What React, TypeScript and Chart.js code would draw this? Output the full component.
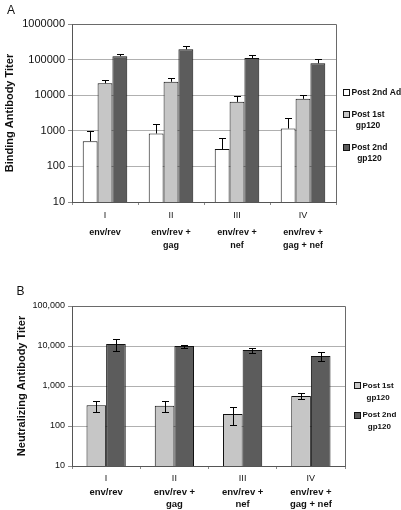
import React, { useEffect, useRef } from 'react';
import { Chart, registerables } from 'chart.js';

Chart.register(...registerables);

const FONT = "'Liberation Sans', Arial, Helvetica, sans-serif";

// ---------- data ----------
const romanLabels = ['I', 'II', 'III', 'IV'];
const groupNames = [['env/rev'], ['env/rev +', 'gag'], ['env/rev +', 'nef'], ['env/rev +', 'gag + nef']];

const bindingTicks = [10, 100, 1000, 10000, 100000, 1000000];
const bindingTickLabels = ['10', '100', '1000', '10000', '100000', '1000000'];
const neutTicks = [10, 100, 1000, 10000, 100000];
const neutTickLabels = ['10', '100', '1,000', '10,000', '100,000'];

const bindingPostAd = [510, 840, 306, 1160];
const bindingPostAdErr = [490, 740, 320, 1100];
const bindingPost1st = [21700, 23800, 6500, 7900];
const bindingPost1stErr = [5900, 7200, 2700, 2500];
const bindingPost2nd = [125000, 195000, 111000, 78700];
const bindingPost2ndErr = [19000, 41000, 27000, 25000];

const neutPost1st = [330, 320, 200, 565];
const neutPost1stErr = [100, 100, 95, 85];
const neutPost2nd = [11200, 10000, 7900, 5600];
const neutPost2ndErr = [3600, 900, 1100, 1400];

const legendA = [['Post 2nd Ad'], ['Post 1st', 'gp120'], ['Post 2nd', 'gp120']];
const legendB = [['Post 1st', 'gp120'], ['Post 2nd', 'gp120']];

const WHITE = '#ffffff';
const LIGHT = '#c6c6c6';
const DARK = '#5c5c5c';

// ---------- plugins ----------
const errorBarsPlugin = {
  id: 'errorBars',
  afterDatasetsDraw(chart: any, _args: any, opts: any) {
    const ctx = chart.ctx;
    const y = chart.scales.y;
    ctx.save();
    ctx.strokeStyle = '#000';
    ctx.lineWidth = 1;
    chart.data.datasets.forEach((ds: any, i: number) => {
      const meta = chart.getDatasetMeta(i);
      if (!ds.errors) return;
      meta.data.forEach((el: any, j: number) => {
        const v = ds.data[j];
        const e = ds.errors[j];
        const x = Math.round(el.x) + 0.5;
        const yTop = Math.round(y.getPixelForValue(v + e)) + 0.5;
        const yBot = opts.mode === 'both' ? Math.round(y.getPixelForValue(v - e)) + 0.5 : el.y;
        const hw = opts.cap / 2;
        ctx.beginPath();
        ctx.moveTo(x, yBot);
        ctx.lineTo(x, yTop);
        ctx.moveTo(x - hw, yTop);
        ctx.lineTo(x + hw, yTop);
        if (opts.mode === 'both') {
          ctx.moveTo(x - hw, yBot);
          ctx.lineTo(x + hw, yBot);
        }
        ctx.stroke();
      });
    });
    ctx.restore();
  },
};

const framePlugin = {
  id: 'frame',
  beforeDatasetsDraw(chart: any) {
    const { ctx, chartArea } = chart;
    ctx.save();
    ctx.strokeStyle = '#6a6a6a';
    ctx.lineWidth = 1;
    ctx.beginPath();
    const l = Math.round(chartArea.left) + 0.5;
    const t = Math.round(chartArea.top) + 0.5;
    const r = Math.round(chartArea.right) + 0.5;
    const b = Math.round(chartArea.bottom) + 0.5;
    ctx.moveTo(l, t);
    ctx.lineTo(r, t);
    ctx.lineTo(r, b);
    ctx.stroke();
    ctx.restore();
  },
};

const sideLegendPlugin = {
  id: 'sideLegend',
  afterDraw(chart: any, _args: any, opts: any) {
    const ctx = chart.ctx;
    ctx.save();
    ctx.font = `bold ${opts.fontSize}px ${FONT}`;
    ctx.fillStyle = '#111';
    ctx.textBaseline = 'middle';
    ctx.textAlign = 'center';
    let yLine = opts.y;
    opts.items.forEach((lines: string[], i: number) => {
      const ds = chart.data.datasets[i];
      const bs = opts.box;
      ctx.fillStyle = ds.backgroundColor;
      ctx.fillRect(opts.x, Math.round(yLine - bs / 2), bs, bs);
      ctx.strokeStyle = '#111';
      ctx.lineWidth = 1;
      ctx.strokeRect(opts.x + 0.5, Math.round(yLine - bs / 2) + 0.5, bs - 1, bs - 1);
      const maxW = Math.max(...lines.map((s) => ctx.measureText(s).width));
      const cx = opts.x + bs + opts.gap + maxW / 2;
      ctx.fillStyle = '#111';
      lines.forEach((s, k) => {
        ctx.fillText(s, cx, yLine + k * opts.lineH);
      });
      yLine += lines.length * opts.lineH + opts.itemGap;
    });
    ctx.restore();
  },
};

const panelLetterPlugin = {
  id: 'panelLetter',
  afterDraw(chart: any, _args: any, opts: any) {
    const ctx = chart.ctx;
    ctx.save();
    ctx.font = `${opts.size}px ${FONT}`;
    ctx.fillStyle = '#111';
    ctx.textBaseline = 'alphabetic';
    ctx.textAlign = 'left';
    ctx.fillText(opts.text, opts.x, opts.y);
    ctx.restore();
  },
};

// ---------- config builder ----------
function buildConfig(p: any) {
  return {
    type: 'bar',
    data: {
      labels: romanLabels,
      datasets: p.datasets.map((d: any) => ({
        label: d.label,
        data: d.data,
        errors: d.errors,
        backgroundColor: d.color,
        borderColor: '#111',
        borderWidth: 1,
        categoryPercentage: p.catPct,
        barPercentage: 1.0,
      })),
    },
    options: {
      responsive: false,
      animation: false,
      devicePixelRatio: 1,
      layout: { padding: p.padding },
      plugins: {
        legend: { display: false },
        tooltip: { enabled: false },
        errorBars: { mode: p.errMode, cap: p.cap },
        sideLegend: p.legend,
        panelLetter: p.letter,
      },
      scales: {
        y: {
          type: 'logarithmic',
          min: p.ticks[0],
          max: p.ticks[p.ticks.length - 1],
          afterFit: (s: any) => {
            s.width = 72;
          },
          afterBuildTicks: (s: any) => {
            s.ticks = p.ticks.map((v: number) => ({ value: v }));
          },
          ticks: {
            callback: (v: number) => p.tickLabels[p.ticks.indexOf(v)],
            font: { size: p.yTickSize, family: FONT },
            color: '#111',
            padding: 3,
            autoSkip: false,
          },
          grid: { color: '#b0b0b0', tickLength: 4, tickColor: '#8a8a8a' },
          border: { color: '#555' },
          title: {
            display: true,
            text: p.yTitle,
            font: { size: 11, weight: 'bold', family: FONT },
            color: '#111',
            padding: { top: p.titlePad, bottom: 0 },
          },
        },
        x: {
          type: 'category',
          offset: true,
          weight: 0,
          afterFit: (s: any) => {
            s.height = p.xH;
          },
          grid: { display: true, drawOnChartArea: false, offset: true, tickLength: 3, color: '#8a8a8a' },
          border: { color: '#555' },
          ticks: {
            font: { size: 9, family: FONT },
            color: '#111',
            padding: p.xPad,
            autoSkip: false,
            maxRotation: 0,
          },
        },
        x2: {
          type: 'category',
          position: 'bottom',
          labels: groupNames,
          offset: true,
          weight: 1,
          afterFit: (s: any) => {
            s.height = p.x2H;
          },
          grid: { display: false, drawTicks: false, tickLength: 0 },
          border: { display: false },
          ticks: {
            font: { size: p.nameSize, weight: 'bold', family: FONT, lineHeight: p.nameLH },
            color: '#111',
            padding: p.x2Pad,
            autoSkip: false,
            maxRotation: 0,
          },
        },
      },
    },
    plugins: [framePlugin, errorBarsPlugin, sideLegendPlugin, panelLetterPlugin],
  };
}

const configA = () =>
  buildConfig({
    datasets: [
      { label: 'Post 2nd Ad', data: bindingPostAd, errors: bindingPostAdErr, color: WHITE },
      { label: 'Post 1st gp120', data: bindingPost1st, errors: bindingPost1stErr, color: LIGHT },
      { label: 'Post 2nd gp120', data: bindingPost2nd, errors: bindingPost2ndErr, color: DARK },
    ],
    catPct: 0.675,
    padding: { left: 0, top: 24, right: 65, bottom: 0 },
    errMode: 'up',
    cap: 7,
    ticks: bindingTicks,
    tickLabels: bindingTickLabels,
    yTickSize: 11,
    yTitle: 'Binding Antibody Titer',
    titlePad: 3.5,
    xH: 20,
    xPad: 5,
    x2H: 33,
    x2Pad: 3.5,
    nameSize: 9,
    nameLH: 1.45,
    legend: { items: legendA, x: 343, y: 92.5, box: 7, gap: 1.5, lineH: 11, itemGap: 11, fontSize: 8.5 },
    letter: { text: 'A', x: 7, y: 13.5, size: 12 },
  });

const configB = () =>
  buildConfig({
    datasets: [
      { label: 'Post 1st gp120', data: neutPost1st, errors: neutPost1stErr, color: LIGHT },
      { label: 'Post 2nd gp120', data: neutPost2nd, errors: neutPost2ndErr, color: DARK },
    ],
    catPct: 0.575,
    padding: { left: 0, top: 51, right: 56, bottom: 0 },
    errMode: 'both',
    cap: 7,
    ticks: neutTicks,
    tickLabels: neutTickLabels,
    yTickSize: 9,
    yTitle: 'Neutralizing Antibody Titer',
    titlePad: 15.5,
    xH: 20,
    xPad: 4,
    x2H: 24,
    x2Pad: 0.7,
    nameSize: 9.5,
    nameLH: 1.26,
    legend: { items: legendB, x: 354, y: 130.7, box: 7, gap: 1.5, lineH: 12, itemGap: 5.3, fontSize: 8 },
    letter: { text: 'B', x: 16.5, y: 40, size: 12 },
  });

function PanelChart({ makeConfig, top, height }: { makeConfig: () => any; top: number; height: number }) {
  const ref = useRef<HTMLCanvasElement>(null);
  useEffect(() => {
    const chart = new Chart(ref.current as HTMLCanvasElement, makeConfig());
    return () => chart.destroy();
  }, [makeConfig]);
  return (
    <canvas
      ref={ref}
      width={401}
      height={height}
      style={{ position: 'absolute', left: 0, top, width: 401, height, display: 'block' }}
    />
  );
}

export default function App() {
  return (
    <div style={{ position: 'absolute', left: 0, top: 0, width: 401, height: 510, background: '#fff', overflow: 'hidden' }}>
      <PanelChart makeConfig={configA} top={0} height={255} />
      <PanelChart makeConfig={configB} top={255} height={255} />
    </div>
  );
}
